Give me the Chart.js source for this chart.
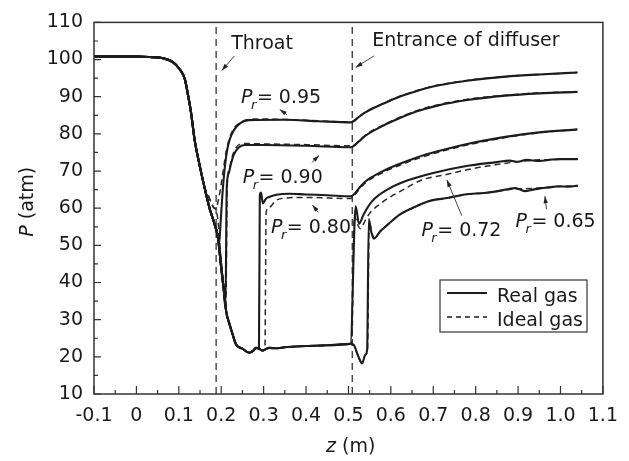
<!DOCTYPE html>
<html>
<head>
<meta charset="utf-8">
<script src="https://cdn.jsdelivr.net/npm/chart.js@4.4.1/dist/chart.umd.min.js"></script>
<style>
  html, body { margin: 0; padding: 0; background: #fff; }
  .chart-size { position: relative; width: 629px; height: 461px; }
</style>
</head>
<body>
<div class="chart-size"><canvas id="chart" width="629" height="461"></canvas></div>
<script>
// ---- data (z in m, P in atm) ----
// converging part, shared by every back-pressure ratio
const inletZ = [-0.1, -0.05, 0, 0.03, 0.06, 0.086, 0.102, 0.114, 0.121, 0.129, 0.137, 0.149, 0.161, 0.172, 0.184, 0.192];
const inletP = [100.8, 100.8, 100.8, 100.7, 100.4, 99.3, 97.4, 94.8, 90.9, 85.6, 78.6, 71.6, 65.4, 60.2, 55.8, 52.3];
const idealInletZ = [-0.1, -0.05, 0, 0.03, 0.06, 0.086, 0.102, 0.114, 0.121, 0.129, 0.137, 0.149, 0.161, 0.168, 0.176, 0.182, 0.187];
const idealInletP = [100.8, 100.8, 100.8, 100.7, 100.4, 99.3, 97.4, 94.8, 90.9, 85.6, 78.6, 71.6, 65.4, 63.8, 61.6, 60.2, 59.8];

// supersonic branch after the throat
const superZ = [0.2, 0.206, 0.212, 0.219, 0.227, 0.235, 0.25, 0.266, 0.275, 0.282, 0.289];
const superP = [44, 38, 32, 29, 26, 23.3, 22.2, 21.1, 21.6, 22.4, 22.2];
const tailZ = [0.298, 0.313, 0.329, 0.35, 0.4, 0.45, 0.505];
const tailP = [21.7, 22.4, 22.3, 22.6, 22.9, 23.1, 23.5];

// Pr = 0.95
const real95Z = [0.195, 0.199, 0.203, 0.208, 0.213, 0.22, 0.23, 0.245, 0.265, 0.35, 0.43, 0.505];
const real95P = [50.5, 57, 64, 70.5, 75, 78.5, 81, 82.9, 83.7, 83.8, 83.4, 83.1];
const ideal95Z = [0.192, 0.198, 0.205, 0.212, 0.22, 0.23, 0.25, 0.274, 0.35, 0.43, 0.505];
const ideal95P = [61.5, 65, 70.5, 75.5, 79, 81.5, 83.3, 84, 83.9, 83.5, 83.2];

// Pr = 0.90
const real90Z = [0.2, 0.206, 0.21, 0.213, 0.218, 0.223, 0.23, 0.24, 0.255, 0.3, 0.4, 0.505];
const real90P = [44, 38, 33, 65.5, 69.5, 72, 74.5, 76.2, 77, 77, 76.8, 76.4];
const ideal90Z = [0.192, 0.2, 0.207, 0.211, 0.214, 0.219, 0.225, 0.235, 0.255, 0.3, 0.4, 0.505];
const ideal90P = [57, 46, 38, 34, 66, 70.5, 73.5, 76.3, 77.4, 77.3, 77.1, 76.8];

// Pr = 0.80
const real80Z = [0.291, 0.294, 0.298, 0.305, 0.313, 0.33, 0.36, 0.4, 0.45, 0.505];
const real80P = [63.5, 64.2, 61.3, 62.5, 63, 63.6, 63.9, 63.7, 63.5, 63.2];
const ideal80Z = [0.298, 0.303, 0.306, 0.313, 0.329, 0.35, 0.4, 0.505];
const ideal80P = [21.7, 22.2, 59, 60.2, 62.1, 62.7, 62.9, 62.6];

// diffuser (Pr = 0.95, 0.90, 0.80)
const diffZ = [0.512, 0.525, 0.54, 0.58, 0.62, 0.66, 0.71, 0.78, 0.87, 0.95, 1.04];
const real95Diff = [83.4, 84.6, 85.8, 88, 90, 91.5, 93, 94.3, 95.4, 96, 96.5];
const ideal95Diff = [83.5, 84.7, 85.9, 88.1, 90.1, 91.6, 93.1, 94.4, 95.4, 96, 96.5];
const real90Diff = [76.7, 78, 79.5, 82.1, 84.2, 86, 87.6, 89.1, 90.3, 90.9, 91.3];
const ideal90Diff = [76.9, 78.2, 79.7, 82.3, 84.4, 86.2, 87.8, 89.3, 90.4, 91, 91.3];
const real80Diff = [63.6, 65.4, 67.2, 69.9, 71.9, 73.6, 75.3, 77.3, 79.2, 80.4, 81.2];
const ideal80Diff = [63.2, 65, 66.8, 69.5, 71.5, 73.2, 75, 77, 79, 80.3, 81.2];

// Pr = 0.72
const real72Z = [0.517, 0.525, 0.536, 0.556, 0.595, 0.64, 0.7, 0.775, 0.85, 0.88, 0.9, 0.92, 0.95, 0.98, 1.0, 1.041];
const real72P = [60.5, 55.8, 58.4, 61.9, 65.2, 67.5, 69.5, 71.3, 72.4, 72.8, 72.5, 73.0, 72.7, 73.1, 73.2, 73.2];
const ideal72Z = [0.508, 0.514, 0.52, 0.528, 0.54, 0.552, 0.575, 0.595, 0.62, 0.673, 0.728, 0.79, 0.853, 0.932, 0.98, 1.041];
const ideal72P = [24, 58, 56, 54.5, 56.8, 58.9, 61.2, 62.8, 64.4, 67.6, 69, 70.6, 71.8, 72.9, 73.1, 73.2];

// Pr = 0.65
const real65Z = [0.512, 0.522, 0.532, 0.54, 0.544, 0.548, 0.553, 0.56, 0.575, 0.595, 0.62, 0.65, 0.689, 0.736, 0.775, 0.82, 0.853, 0.875, 0.893, 0.905, 0.916, 0.935, 0.955, 0.975, 0.994, 1.02, 1.041];
const real65P = [23.3, 20.5, 18.2, 20.6, 21.8, 57.1, 54, 51.8, 53.8, 55.8, 58.2, 60, 61.9, 62.8, 63.7, 64.1, 64.6, 65.1, 65.4, 65, 64.6, 65, 65.4, 65.6, 65.9, 65.8, 66.1];
const ideal65Z = [0.512, 0.522, 0.532, 0.54, 0.545, 0.549, 0.555, 0.562, 0.575, 0.595, 0.62, 0.65, 0.689, 0.736, 0.775, 0.82, 0.853, 0.893, 0.935, 0.975, 1.041];
const ideal65P = [23.2, 20.6, 18.5, 20.5, 22, 56.5, 53.5, 52, 53.8, 55.8, 58.2, 60, 61.9, 62.8, 63.7, 64.1, 64.6, 65.2, 65.3, 65.7, 66];

// reference planes
const throatZ = 0.188;
const diffuserZ = 0.509;

// ---- helpers ----
function pts(...parts) {
  const out = [];
  parts.forEach(([zs, ps]) => zs.forEach((z, i) => out.push({ x: z, y: ps[i] })));
  return out;
}

const INK = "#1c1c1c";
const FONT = "DejaVu Sans";

function real(data) {
  return { data, showLine: true, pointRadius: 0, borderColor: INK, borderWidth: 2.1, cubicInterpolationMode: "monotone" };
}
function ideal(data) {
  return { data, showLine: true, pointRadius: 0, borderColor: "#2a2a2a", borderWidth: 1.5, borderDash: [6, 4], cubicInterpolationMode: "monotone" };
}
function refLine(z) {
  return { data: [{ x: z, y: 10 }, { x: z, y: 110 }], showLine: true, pointRadius: 0, borderColor: "#333", borderWidth: 1.3, borderDash: [7, 5] };
}

const datasets = [
  real(pts([inletZ, inletP], [real95Z, real95P], [diffZ, real95Diff])),
  real(pts([inletZ, inletP], [real90Z, real90P], [diffZ, real90Diff])),
  real(pts([inletZ, inletP], [superZ, superP], [real80Z, real80P], [diffZ, real80Diff])),
  real(pts([inletZ, inletP], [superZ, superP], [tailZ, tailP], [real72Z, real72P])),
  real(pts([inletZ, inletP], [superZ, superP], [tailZ, tailP], [real65Z, real65P])),
  ideal(pts([idealInletZ, idealInletP], [ideal95Z, ideal95P], [diffZ, ideal95Diff])),
  ideal(pts([idealInletZ, idealInletP], [ideal90Z, ideal90P], [diffZ, ideal90Diff])),
  ideal(pts([inletZ, inletP], [superZ, superP], [ideal80Z, ideal80P], [diffZ, ideal80Diff])),
  ideal(pts([inletZ, inletP], [superZ, superP], [tailZ, tailP], [ideal72Z, ideal72P])),
  ideal(pts([inletZ, inletP], [superZ, superP], [tailZ, tailP], [ideal65Z, ideal65P])),
  refLine(throatZ),
  refLine(diffuserZ)
];

// annotation anchors in data units: text left/baseline, arrow tail -> head
const labels = [
  { text: "Throat", x: 0.2234, y: 102.97, arrow: [0.2311, 100.97, 0.2013, 97.03] },
  { text: "Entrance of diffuser", x: 0.556, y: 103.6, arrow: [0.5599, 100.97, 0.517, 97.89] },
  { pr: "0.95", x: 0.2469, y: 88.24, arrow: [0.3556, 85.13, 0.338, 86.58] },
  { pr: "0.90", x: 0.2506, y: 66.76, arrow: [0.4136, 72.29, 0.4308, 74.21] },
  { pr: "0.80", x: 0.3173, y: 53.34, arrow: [0.4291, 58.87, 0.415, 60.87] },
  { pr: "0.72", x: 0.672, y: 52.45, arrow: [0.7673, 57.97, 0.7321, 67.63] },
  { pr: "0.65", x: 0.8941, y: 54.92, arrow: [0.967, 59.74, 0.9632, 63.24] }
];
const legendItems = [
  { text: "Real gas", dash: [], width: 2.1 },
  { text: "Ideal gas", dash: [5, 4], width: 1.5 }
];

function arrow(ctx, x1, y1, x2, y2) {
  const a = Math.atan2(y2 - y1, x2 - x1);
  ctx.save();
  ctx.strokeStyle = "#444";
  ctx.fillStyle = "#222";
  ctx.lineWidth = 1;
  ctx.beginPath();
  ctx.moveTo(x1, y1);
  ctx.lineTo(x2, y2);
  ctx.stroke();
  ctx.beginPath();
  ctx.moveTo(x2, y2);
  ctx.lineTo(x2 - 7 * Math.cos(a) + 2.2 * Math.sin(a), y2 - 7 * Math.sin(a) - 2.2 * Math.cos(a));
  ctx.lineTo(x2 - 7 * Math.cos(a) - 2.2 * Math.sin(a), y2 - 7 * Math.sin(a) + 2.2 * Math.cos(a));
  ctx.closePath();
  ctx.fill();
  ctx.restore();
}

function drawPr(ctx, x, y, value) {
  ctx.font = "italic 19px '" + FONT + "'";
  ctx.fillText("P", x, y);
  let cx = x + ctx.measureText("P").width - 1.5;
  ctx.font = "italic 13px '" + FONT + "'";
  ctx.fillText("r", cx, y + 6);
  cx += ctx.measureText("r").width + 0.5;
  ctx.font = "19px '" + FONT + "'";
  ctx.fillText("= " + value, cx, y);
}

const decor = {
  id: "decor",
  beforeDraw(chart) {
    const ctx = chart.ctx;
    ctx.save();
    ctx.fillStyle = "#fff";
    ctx.fillRect(0, 0, chart.width, chart.height);
    ctx.restore();
  },
  afterDatasetsDraw(chart) {
    const { ctx, chartArea: a, scales: { x, y } } = chart;
    ctx.save();
    // frame
    ctx.strokeStyle = "#333";
    ctx.lineWidth = 1.5;
    ctx.strokeRect(a.left, a.top, a.right - a.left, a.bottom - a.top);
    // inward ticks
    ctx.lineWidth = 1.2;
    ctx.beginPath();
    x.ticks.forEach(t => {
      const px = x.getPixelForValue(t.value);
      ctx.moveTo(px, a.bottom); ctx.lineTo(px, a.bottom - 8);
      if (t.value + 0.05 < x.max) {
        const mx = x.getPixelForValue(t.value + 0.05);
        ctx.moveTo(mx, a.bottom); ctx.lineTo(mx, a.bottom - 4);
      }
    });
    y.ticks.forEach(t => {
      const py = y.getPixelForValue(t.value);
      ctx.moveTo(a.left, py); ctx.lineTo(a.left + 7, py);
      if (t.value + 5 < y.max) {
        const my = y.getPixelForValue(t.value + 5);
        ctx.moveTo(a.left, my); ctx.lineTo(a.left + 4, my);
      }
    });
    ctx.stroke();

    // annotations
    ctx.fillStyle = "#1a1a1a";
    ctx.textBaseline = "alphabetic";
    ctx.textAlign = "left";
    labels.forEach(l => {
      const px = x.getPixelForValue(l.x), py = y.getPixelForValue(l.y);
      if (l.pr) {
        drawPr(ctx, px, py, l.pr);
      } else {
        ctx.font = "19px '" + FONT + "'";
        ctx.fillText(l.text, px, py);
      }
      const [x1, y1, x2, y2] = l.arrow;
      arrow(ctx, x.getPixelForValue(x1), y.getPixelForValue(y1), x.getPixelForValue(x2), y.getPixelForValue(y2));
    });

    // legend
    const bx = 440, by = 280, bw = 147, bh = 52;
    ctx.strokeStyle = "#333";
    ctx.lineWidth = 1.2;
    ctx.setLineDash([]);
    ctx.strokeRect(bx, by, bw, bh);
    legendItems.forEach((item, i) => {
      const ly = by + 13 + i * 24;
      ctx.strokeStyle = INK;
      ctx.lineWidth = item.width;
      ctx.setLineDash(item.dash);
      ctx.beginPath();
      ctx.moveTo(bx + 7, ly); ctx.lineTo(bx + 47, ly);
      ctx.stroke();
      ctx.setLineDash([]);
      ctx.font = "19px '" + FONT + "'";
      ctx.fillStyle = "#1a1a1a";
      ctx.fillText(item.text, bx + 57, ly + 8.5);
    });

    // axis titles
    ctx.font = "italic 19px '" + FONT + "'";
    ctx.fillText("z", 326, 451.7);
    let w = ctx.measureText("z").width;
    ctx.font = "19px '" + FONT + "'";
    ctx.fillText(" (m)", 326 + w, 451.7);

    ctx.translate(33, 236.7);
    ctx.rotate(-Math.PI / 2);
    ctx.font = "italic 19px '" + FONT + "'";
    ctx.fillText("P", 0, 0);
    w = ctx.measureText("P").width;
    ctx.font = "19px '" + FONT + "'";
    ctx.fillText(" (atm)", w, 0);
    ctx.restore();
  }
};

const tickFont = { family: FONT, size: 19 };

new Chart(document.getElementById("chart"), {
  type: "scatter",
  data: { datasets },
  options: {
    responsive: false,
    animation: false,
    devicePixelRatio: 1,
    layout: { padding: { top: 14, right: 23, left: 0, bottom: 0 } },
    plugins: { legend: { display: false }, tooltip: { enabled: false } },
    scales: {
      x: {
        type: "linear",
        min: -0.1,
        max: 1.1,
        grid: { display: false, drawTicks: false },
        border: { display: false },
        ticks: {
          stepSize: 0.1,
          padding: 11,
          color: "#1a1a1a",
          font: tickFont,
          autoSkip: false,
          maxRotation: 0,
          callback: v => (Math.abs(v) < 1e-9 ? "0" : v.toFixed(1))
        },
        afterFit(s) { s.height = 67; }
      },
      y: {
        min: 10,
        max: 110,
        grid: { display: false, drawTicks: false },
        border: { display: false },
        ticks: { stepSize: 10, padding: 11, color: "#1a1a1a", font: tickFont },
        afterFit(s) { s.width = 94; }
      }
    }
  },
  plugins: [decor]
});
</script>
</body>
</html>
